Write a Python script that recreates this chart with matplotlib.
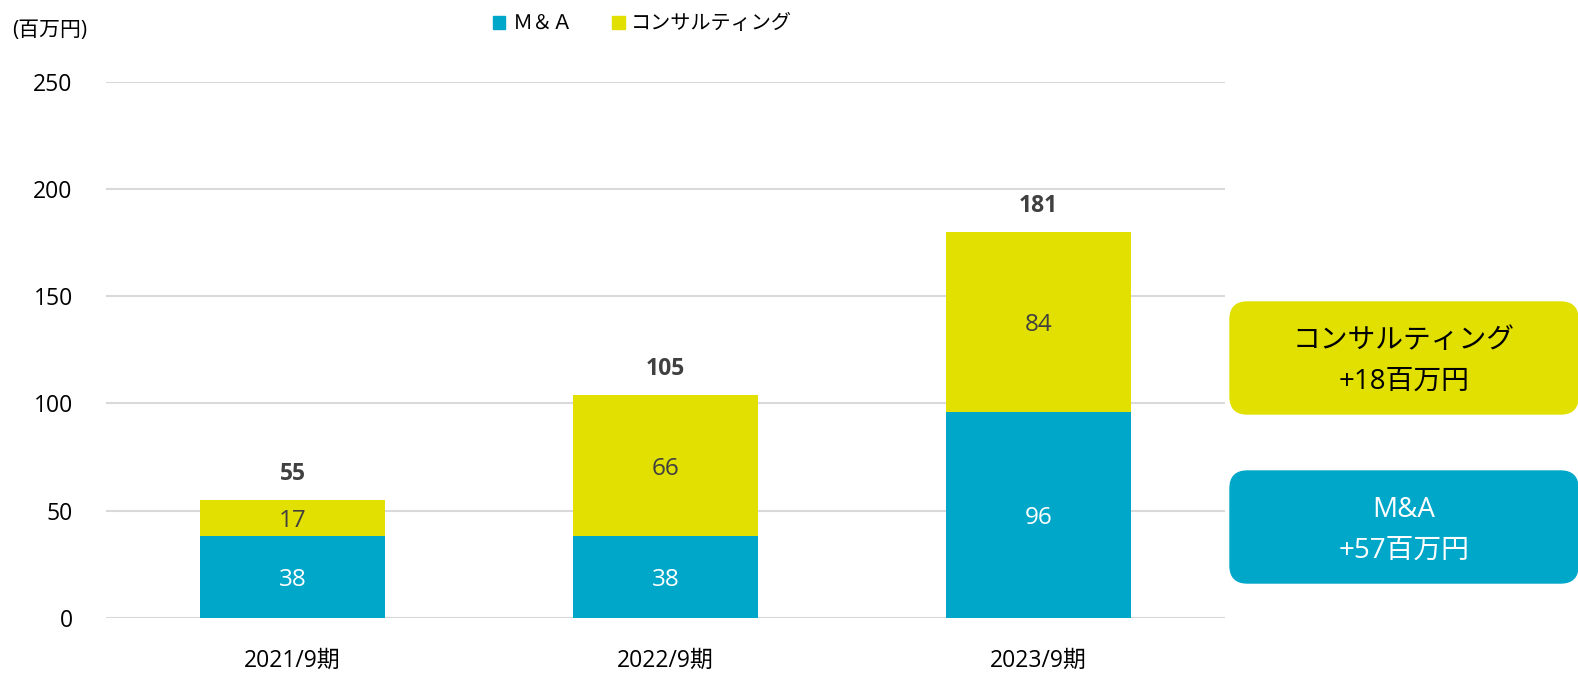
import numpy as np
import matplotlib.pyplot as plt
from matplotlib.patches import FancyBboxPatch, Rectangle

plt.rcParams['font.family'] = ['Open Sans', 'Noto Sans CJK JP']

periods = ['2021/9期', '2022/9期', '2023/9期']
ma = [38, 38, 96]
consulting = [17, 66, 84]
totals = [55, 105, 181]

teal = '#00A7C9'
yellow = '#E1E000'
grid_c = '#D9D9D9'
text_c = '#404040'

fig = plt.figure(figsize=(15.78, 6.73), dpi=100)
ax = fig.add_axes([0.0672, 0.0817, 0.709, 0.797])

x = np.arange(len(periods))
ax.bar(x, ma, width=0.496, color=teal, zorder=3)
ax.bar(x, consulting, width=0.496, bottom=ma, color=yellow, zorder=3)

for i in range(len(x)):
    ax.text(x[i], ma[i] / 2 - 1.5, str(ma[i]), ha='center', va='center',
            color='white', fontsize=17.5, zorder=4)
    ax.text(x[i], ma[i] + consulting[i] / 2 - 1.5, str(consulting[i]), ha='center',
            va='center', color=text_c, fontsize=17.5, zorder=4)
    ax.text(x[i], ma[i] + consulting[i] + 6.5, str(totals[i]), ha='center',
            va='bottom', color=text_c, fontsize=16.5, fontweight='bold', zorder=4)

ax.set_xlim(-0.5, 2.5)
ax.set_ylim(0, 250)
ax.set_yticks([0, 50, 100, 150, 200, 250])
ax.yaxis.grid(True, color=grid_c, linewidth=1.5, zorder=0)
ax.set_axisbelow(True)
for s in ax.spines.values():
    s.set_visible(False)
ax.tick_params(axis='both', length=0, labelsize=16.5, colors='black')
ax.tick_params(axis='y', pad=24)
ax.tick_params(axis='x', pad=22.5)
ax.set_xticks(x)
ax.set_xticklabels(periods)

fig.text(0.008, 0.955, '(百万円)', fontsize=15, ha='left', va='center')

# legend
fig.patches.append(Rectangle((0.3124, 0.9565), 0.0078, 0.0195, transform=fig.transFigure,
                             color=teal, figure=fig))
fig.text(0.325, 0.965, 'Ｍ＆Ａ', family='Noto Sans CJK JP', fontsize=14.5,
         ha='left', va='center')
fig.patches.append(Rectangle((0.388, 0.9565), 0.0078, 0.0195, transform=fig.transFigure,
                             color=yellow, figure=fig))
fig.text(0.3995, 0.965, 'コンサルティング', fontsize=14.5, ha='left', va='center')

# callout boxes
W, H = 1578, 673
def box(x0, y0, x1, y1, color, txt, tcol):
    bx = FancyBboxPatch((x0 / W, 1 - y1 / H), (x1 - x0) / W, (y1 - y0) / H,
                        boxstyle='round,pad=0,rounding_size=0.011',
                        transform=fig.transFigure, color=color,
                        mutation_aspect=W / H, figure=fig)
    fig.patches.append(bx)
    fig.text((x0 + x1) / 2 / W, 1 - (y0 + y1 + 6) / 2 / H, txt, ha='center', va='center',
             fontsize=20, color=tcol, linespacing=1.6)

box(1230, 302, 1578, 414, yellow, 'コンサルティング\n+18百万円', 'black')
box(1230, 471, 1578, 583, teal, 'M&A\n+57百万円', 'white')

fig.savefig('out.png', dpi=100)
